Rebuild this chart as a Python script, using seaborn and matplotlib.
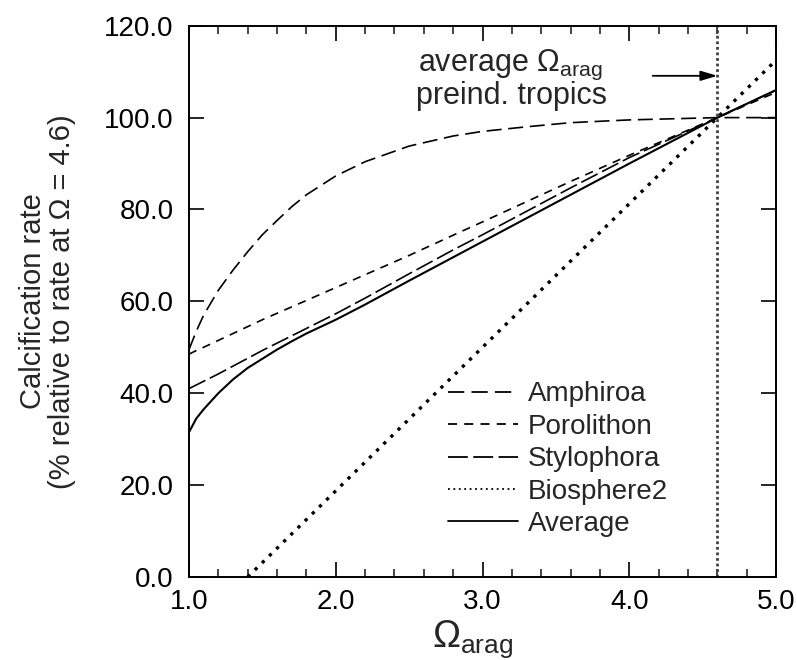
import matplotlib
matplotlib.use("Agg")
import matplotlib.pyplot as plt
import seaborn as sns
import pandas as pd

# ---- data ----
omega = [1.0, 1.05, 1.1, 1.2, 1.3, 1.4, 1.5, 1.6, 1.7, 1.8, 2.0, 2.2, 2.5, 2.8, 3.0, 3.3, 3.6, 4.0, 4.6, 5.0]
amphiroa = [49.5, 53.5, 57.0, 62.4, 66.8, 70.8, 74.5, 77.6, 80.6, 83.2, 87.3, 90.4, 93.8, 96.0, 97.0, 98.0, 98.9, 99.5, 100.0, 100.0]
porolithon = [48.5, 49.3, 50.0, 51.5, 53.0, 54.5, 56.0, 57.4, 58.8, 60.2, 63.0, 65.8, 70.0, 74.4, 77.3, 81.7, 86.1, 91.8, 100.0, 105.5]
stylophora = [41.0, 41.8, 42.6, 44.2, 45.9, 47.6, 49.3, 50.9, 52.5, 54.1, 57.3, 60.7, 66.0, 71.2, 74.5, 79.6, 84.7, 91.3, 100.0, 106.0]
average = [31.5, 34.5, 36.5, 40.0, 43.0, 45.5, 47.5, 49.5, 51.3, 53.0, 56.0, 59.3, 64.5, 69.6, 73.0, 78.1, 83.2, 90.0, 100.0, 106.0]
bio_omega = [1.4, 2.0, 3.0, 4.0, 4.6, 5.0]
biosphere2 = [0.0, 18.75, 50.0, 81.25, 100.0, 112.5]
preind_omega = 4.6

x_ticks = [1.0, 2.0, 3.0, 4.0, 5.0]
y_ticks = [0.0, 20.0, 40.0, 60.0, 80.0, 100.0, 120.0]

sns.set_style("ticks")
plt.rcParams["font.family"] = ["Liberation Sans", "DejaVu Sans"]
plt.rcParams["mathtext.fontset"] = "custom"
plt.rcParams["mathtext.rm"] = "Liberation Sans"
plt.rcParams["mathtext.it"] = "Liberation Sans"
plt.rcParams["mathtext.bf"] = "Liberation Sans:bold"

fig = plt.figure(figsize=(7.97, 6.60), dpi=100)
ax = fig.add_axes([0.2371, 0.1258, 0.7366, 0.8352])

df = pd.DataFrame({"omega": omega, "Amphiroa": amphiroa, "Porolithon": porolithon,
                   "Stylophora": stylophora, "Average": average})
dfb = pd.DataFrame({"omega": bio_omega, "Biosphere2": biosphere2})

styles = {
    "Amphiroa": dict(ls=(0, (9, 4)), lw=1.2),
    "Porolithon": dict(ls=(0, (5, 4)), lw=1.2),
    "Stylophora": dict(ls=(0, (11, 3)), lw=1.2),
    "Biosphere2": dict(ls=(0, (1, 2)), lw=2.4),
}

for name in ["Amphiroa", "Porolithon", "Stylophora"]:
    sns.lineplot(data=df, x="omega", y=name, ax=ax, color="black",
                 linestyle=styles[name]["ls"], lw=styles[name]["lw"], label=name)
sns.lineplot(data=dfb, x="omega", y="Biosphere2", ax=ax, color="black",
             linestyle=styles["Biosphere2"]["ls"], lw=styles["Biosphere2"]["lw"], label="Biosphere2")
sns.lineplot(data=df, x="omega", y="Average", ax=ax, color="black",
             linestyle="-", lw=1.5, label="Average")

ax.axvline(preind_omega, color="0.25", lw=2.0, ls=(0, (1, 1)))

ax.set_xlim(1.0, 5.0)
ax.set_ylim(0.0, 120.0)
ax.set_xticks(x_ticks)
ax.set_xticklabels([f"{v:.1f}" for v in x_ticks])
ax.set_yticks(y_ticks)
ax.set_yticklabels([f"{v:.1f}" for v in y_ticks])
ax.set_xticks([1.2 + 0.2 * i for i in range(19) if round(1.2 + 0.2 * i, 1) not in x_ticks], minor=True)

ax.tick_params(axis="both", which="major", direction="in", length=11, width=1.2,
               top=True, right=True, labelsize=20, colors="black")
ax.tick_params(axis="x", which="major", pad=9)
ax.tick_params(axis="y", which="major", pad=11)
ax.tick_params(axis="x", which="minor", direction="in", length=6, width=1.2, top=True)
for s in ax.spines.values():
    s.set_linewidth(1.4)
    s.set_color("black")

ax.set_xlabel(r"$\Omega_{\rm arag}$", fontsize=27)
ax.xaxis.set_label_coords(0.484, -0.075)
ax.set_ylabel("Calcification rate\n(% relative to rate at \u03a9 = 4.6)", fontsize=21,
              linespacing=1.05)
ax.yaxis.set_label_coords(-0.192, 0.5)

ax.text(2.56, 111.5, r"average $\Omega_{\rm arag}$", fontsize=22, va="center", ha="left")
ax.text(2.55, 104.8, "preind. tropics", fontsize=22, va="center", ha="left")
ax.annotate("", xy=(4.6, 109.1), xytext=(4.16, 109.1),
            arrowprops=dict(arrowstyle="-|>,head_length=1.0,head_width=0.3", color="black",
                            lw=1.3, shrinkA=0, shrinkB=0))

leg = ax.legend(loc="upper left", bbox_to_anchor=(0.5625, 0.422), bbox_transform=fig.transFigure,
                frameon=False, fontsize=20, handlelength=2.5, handletextpad=0.35,
                labelspacing=0.23, borderpad=0, borderaxespad=0)
for line in leg.get_lines():
    line.set_linewidth(1.3)

fig.savefig("out.png", dpi=100)
